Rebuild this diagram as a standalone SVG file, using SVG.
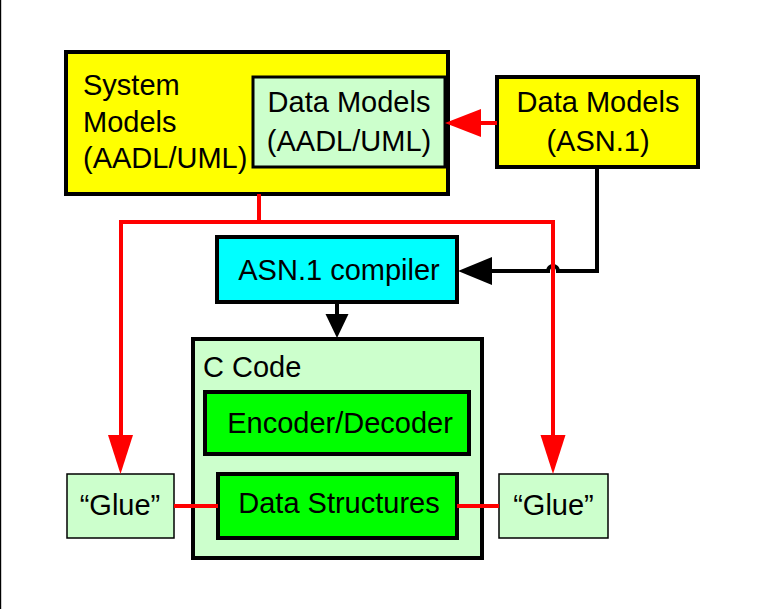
<svg xmlns="http://www.w3.org/2000/svg" width="759" height="609" viewBox="0 0 759 609">
<style>
.box{stroke:#000;stroke-width:4}
.thin{stroke:#000;stroke-width:1.5}
.yel{fill:#ffff00}
.pale{fill:#ccffcc}
.cyan{fill:#00ffff}
.grn{fill:#00ff00}
text{font-family:"Liberation Sans",Arial,Helvetica,sans-serif;font-size:29px;fill:#000}
.c{text-anchor:middle}
.red{stroke:#ff0000;stroke-width:4;fill:none}
.blk{stroke:#000;stroke-width:4;fill:none}
.rh{fill:#ff0000}
.bh{fill:#000}
</style>
<rect x="0" y="0" width="759" height="609" fill="#fff"/>
<rect x="0" y="0" width="1.2" height="609" fill="#000"/>
<g id="system-models">
<rect class="box yel" x="66" y="52" width="382" height="142"/>
<text x="83" y="95">System</text>
<text x="83" y="132">Models</text>
<text x="83" y="168">(AADL/UML)</text>
</g>
<g id="data-models-aadl">
<rect class="pale" x="253" y="77" width="192" height="90" stroke="#000" stroke-width="3"/>
<text class="c" x="349" y="112">Data Models</text>
<text class="c" x="349" y="151">(AADL/UML)</text>
</g>
<g id="data-models-asn">
<rect class="box yel" x="497" y="77" width="201" height="90"/>
<text class="c" x="598" y="112">Data Models</text>
<text class="c" x="598" y="151">(ASN.1)</text>
</g>
<g id="asn-compiler">
<rect class="box cyan" x="217" y="237" width="240" height="65"/>
<text class="c" x="339" y="280">ASN.1 compiler</text>
</g>
<g id="c-code">
<rect class="box pale" x="193" y="339" width="289" height="219"/>
<text x="203" y="377">C Code</text>
</g>
<g id="encoder-decoder">
<rect class="box grn" x="205" y="392" width="264" height="62"/>
<text class="c" x="340" y="433">Encoder/Decoder</text>
</g>
<g id="data-structures">
<rect class="box grn" x="218" y="474" width="239" height="64"/>
<text class="c" x="339" y="513">Data Structures</text>
</g>
<g id="glue-left">
<rect class="thin pale" x="67" y="474" width="107" height="64"/>
<text class="c" x="120" y="515">“Glue”</text>
</g>
<g id="glue-right">
<rect class="thin pale" x="499" y="474" width="109" height="64"/>
<text class="c" x="553.5" y="515">“Glue”</text>
</g>
<g id="connectors">
<path class="red" d="M497,123 H479"/>
<polygon class="rh" points="445,123 481,109 481,137"/>
<path class="blk" d="M597,167 V271 H558 A5,5 0 0 0 548,271 H489"/>
<polygon class="bh" points="458,271 492,257 492,285"/>
<path class="blk" d="M337,302 V316"/>
<polygon class="bh" points="337,338 325.5,314 348.5,314"/>
<path class="red" d="M259,194 V222 M121,222 H553 M121,220 V437 M553,220 V437"/>
<polygon class="rh" points="120.5,474 108,435 133,435"/>
<polygon class="rh" points="553,474 540.5,435 565.5,435"/>
<path class="red" d="M174,506 H218 M457,506 H499"/>
</g>
</svg>
